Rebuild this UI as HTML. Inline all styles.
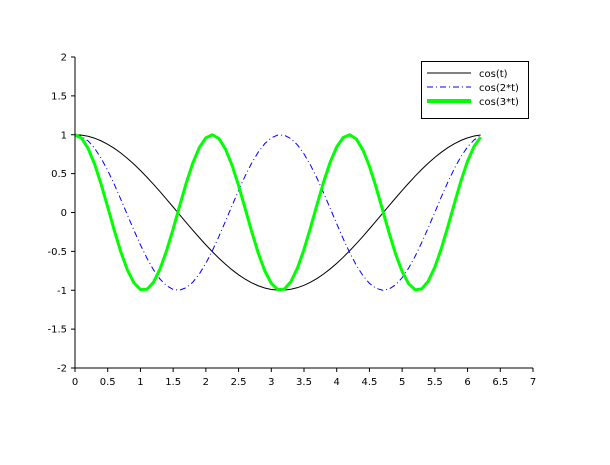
<!DOCTYPE html>
<html><head><meta charset="utf-8"><style>
body{margin:0;background:#fff;width:610px;height:460px;overflow:hidden}
text{font-family:"DejaVu Sans","Liberation Sans",sans-serif;font-size:10px;fill:#000}
</style></head><body>
<svg id="s" width="610" height="460" xmlns="http://www.w3.org/2000/svg">
<g id="plot"></g>
<line x1="75" y1="57" x2="75" y2="368.5" stroke="#000"/>
<line x1="75" y1="368" x2="533" y2="368" stroke="#000"/>
<g id="ticks" stroke="#000"></g>
<g id="labels"></g>
<rect x="421.5" y="61.5" width="107" height="57" fill="#fff" stroke="#000"/>
<line x1="427" y1="73" x2="471" y2="73" stroke="#000"/>
<line x1="427" y1="87" x2="471" y2="87" stroke="#00f" stroke-dasharray="6,3,1,3"/>
<line x1="427" y1="101" x2="471" y2="101" stroke="#0f0" stroke-width="4"/>
<text x="479" y="77">cos(t)</text>
<text x="479" y="91">cos(2*t)</text>
<text x="479" y="105">cos(3*t)</text>
</svg>
<script>
var X=t=>75+t*458/7, Y=v=>212.5-v*77.75;
var ns="http://www.w3.org/2000/svg";
function el(p,n,a,txt){var e=document.createElementNS(ns,n);for(var k in a)e.setAttribute(k,a[k]);if(txt!=null)e.textContent=txt;document.getElementById(p).appendChild(e);}
var ser=[[1,"#000",1,""],[2,"#00f",1,"6,3,1,3"],[3,"#0f0",3,""]];
ser.forEach(function(s){var pts=[];for(var i=0;i<=62;i++){var t=i/10;pts.push(X(t).toFixed(2)+","+Y(Math.cos(s[0]*t)).toFixed(2));}
var a={points:pts.join(" "),fill:"none",stroke:s[1],"stroke-width":s[2]};if(s[3])a["stroke-dasharray"]=s[3];el("plot","polyline",a);});
for(var i=0;i<=14;i++){var t=i/2,x=X(t);el("ticks","line",{x1:x,y1:368,x2:x,y2:372});el("labels","text",{x:x,y:385,"text-anchor":"middle"},String(t));}
for(var i=0;i<=8;i++){var v=-2+i/2,y=Y(v);el("ticks","line",{x1:71,y1:y,x2:75,y2:y});el("labels","text",{x:67,y:y+3.5,"text-anchor":"end"},String(v));}
</script>
</body></html>
